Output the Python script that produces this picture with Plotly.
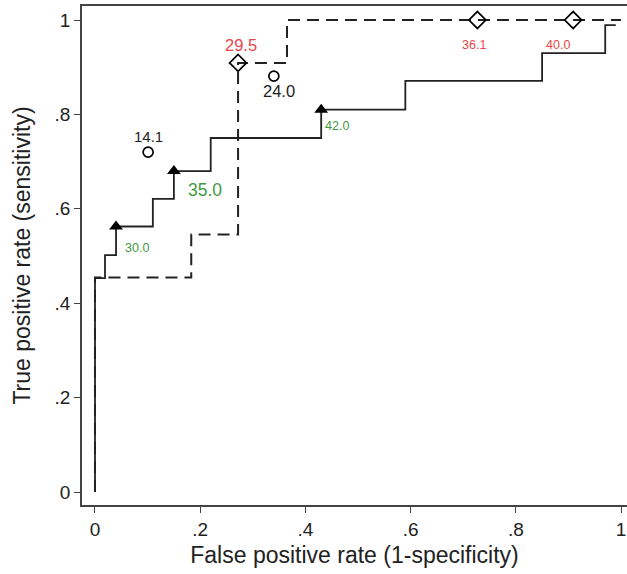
import plotly.graph_objects as go

# ---- data ----
solid_fpr = [0, 0, 0.019, 0.04, 0.11, 0.15, 0.22, 0.43, 0.59, 0.85, 0.97, 0.99]
solid_tpr = [0, 0.453, 0.502, 0.5625, 0.621, 0.68, 0.75, 0.81, 0.871, 0.93, 0.989, 0.989]

dashed_fpr = [0, 0, 0.183, 0.272, 0.365, 1.0]
dashed_tpr = [0, 0.4545, 0.5454, 0.909, 1.0, 1.0]

tri_fpr = [0.04, 0.15, 0.43]
tri_tpr = [0.5625, 0.68, 0.81]
tri_labels = ["30.0", "35.0", "42.0"]

dia_fpr = [0.272, 0.727, 0.909]
dia_tpr = [0.909, 1.0, 1.0]
dia_labels = ["29.5", "36.1", "40.0"]

circ_fpr = [0.101, 0.340]
circ_tpr = [0.720, 0.881]
circ_labels = ["14.1", "24.0"]

tick_vals = [0, 0.2, 0.4, 0.6, 0.8, 1]
tick_text = ["0", ".2", ".4", ".6", ".8", "1"]

# ---- styling ----
FONT = "Liberation Sans, Arial, sans-serif"
LINE = "#222222"
RED = "#e8454a"
GREEN = "#3f9a3f"

fig = go.Figure()

fig.add_trace(go.Scatter(x=dashed_fpr, y=dashed_tpr, mode="lines", line_shape="hv",
                         line=dict(color=LINE, width=2, dash="12px,7px"), hoverinfo="skip"))
fig.add_trace(go.Scatter(x=solid_fpr, y=solid_tpr, mode="lines", line_shape="hv",
                         line=dict(color=LINE, width=1.8), hoverinfo="skip"))
fig.add_trace(go.Scatter(x=tri_fpr, y=tri_tpr, mode="markers",
                         marker=dict(symbol="triangle-up", size=12, color="black"), hoverinfo="skip"))
fig.add_trace(go.Scatter(x=dia_fpr, y=dia_tpr, mode="markers",
                         marker=dict(symbol="diamond-open", size=13, color="black",
                                     line=dict(width=1.7)), hoverinfo="skip", cliponaxis=False))
fig.add_trace(go.Scatter(x=circ_fpr, y=circ_tpr, mode="markers",
                         marker=dict(symbol="circle-open", size=10, color="black",
                                     line=dict(width=1.7)), hoverinfo="skip"))

# label styles: (xshift, yshift, size)
tri_style = [(21, -21, 12.5), (31, -19, 17.5), (16, -16, 12.5)]
dia_style = [(3, 18, 16.5), (-3, -25, 12.5), (-15, -25, 12.5)]
circ_style = [(0, 16, 15), (5, -15, 16.5)]

for xs, ys, labs, styles, col in [(tri_fpr, tri_tpr, tri_labels, tri_style, GREEN),
                                  (dia_fpr, dia_tpr, dia_labels, dia_style, RED),
                                  (circ_fpr, circ_tpr, circ_labels, circ_style, "#222222")]:
    for x, y, t, (dx, dy, sz) in zip(xs, ys, labs, styles):
        fig.add_annotation(x=x, y=y, text=t, showarrow=False, xshift=dx, yshift=dy,
                           font=dict(family=FONT, size=sz, color=col))

fig.update_layout(
    width=627, height=574,
    margin=dict(l=82, r=0, t=6, b=69, autoexpand=False),
    paper_bgcolor="white", plot_bgcolor="white",
    showlegend=False,
    font=dict(family=FONT, color="#222222"),
)
fig.update_xaxes(range=[-0.0247, 1.0114], tickvals=tick_vals, ticktext=tick_text,
                 automargin=False, ticklabeloverflow="allow",
                 showgrid=False, zeroline=False, showline=True, linecolor="#444444", linewidth=1.5,
                 mirror=True, ticks="outside", ticklen=6, tickwidth=1.2, tickcolor="#444444",
                 tickfont=dict(size=19, family=FONT, color="#222222"),
                 title=dict(text="False positive rate (1-specificity)", standoff=8,
                            font=dict(size=23, family=FONT, color="#222222")))
fig.update_yaxes(range=[-0.0275, 1.0297], tickvals=tick_vals, ticktext=tick_text,
                 automargin=False,
                 showgrid=False, zeroline=False, showline=True, linecolor="#444444", linewidth=1.5,
                 mirror=False, ticks="outside", ticklen=6, tickwidth=1.2, tickcolor="#444444",
                 tickfont=dict(size=19, family=FONT, color="#222222"),
                 title=dict(text="True positive rate (sensitivity)", standoff=18,
                            font=dict(size=23, family=FONT, color="#222222")))

fig.write_html("out.html", config={"displayModeBar": False},
               post_script="document.body.style.margin='0';document.body.style.overflow='hidden';")
